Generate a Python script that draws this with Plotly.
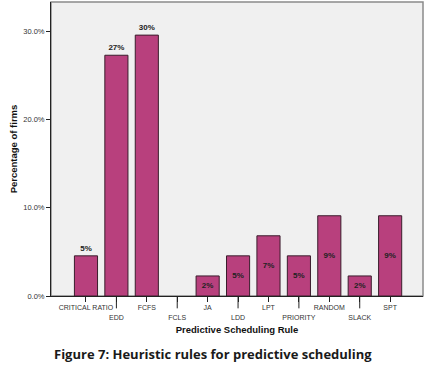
import plotly.graph_objects as go

categories = ["CRITICAL RATIO", "EDD", "FCFS", "FCLS", "JA", "LDD", "LPT",
              "PRIORITY", "RANDOM", "SLACK", "SPT"]
percent = [4.55, 27.27, 29.55, 0.0, 2.27, 4.55, 6.82, 4.55, 9.09, 2.27, 9.09]
bar_labels = ["5%", "27%", "30%", "", "2%", "5%", "7%", "5%", "9%", "2%", "9%"]
label_pos = ["outside", "outside", "outside", "inside", "inside", "inside",
             "inside", "inside", "inside", "inside", "inside"]
y_ticks = [0, 10, 20, 30]
y_ticktext = ["0.0%", "10.0%", "20.0%", "30.0%"]

# staggered tick labels: every second one on a lower row
x_ticktext = [c if i % 2 == 0 else "<br>" + c for i, c in enumerate(categories)]
outline_w = [0 if v == 0 else 1 for v in percent]

fig = go.Figure()
fig.add_trace(go.Bar(
    x=categories, y=percent, text=bar_labels, textposition=label_pos,
    insidetextanchor="middle", cliponaxis=False,
    textfont=dict(family="Liberation Sans", size=8, color="#222222"),
    texttemplate="<b>%{text}</b>",
    marker=dict(color="#b8407d", line=dict(color="#3a1d2c", width=outline_w)),
    width=0.76,
))

shapes = [dict(type="rect", xref="paper", yref="paper", x0=0, x1=1, y0=0, y1=1,
               line=dict(color="#8a8a8a", width=1.5), layer="below")]
for i, c in enumerate(categories):
    if i % 2 == 1:
        shapes.append(dict(type="line", xref="x", yref="paper", x0=c, x1=c,
                           y0=0, y1=-0.042, line=dict(color="#222222", width=1)))

fig.update_layout(
    width=433, height=373,
    margin=dict(l=51, r=10, t=2, b=77),
    paper_bgcolor="white", plot_bgcolor="#f0f0f0",
    showlegend=False, shapes=shapes,
    font=dict(family="Liberation Sans", color="#333333"),
    xaxis=dict(
        tickmode="array", tickvals=categories, ticktext=x_ticktext,
        tickangle=0, automargin=False,
        range=[-1.15, 11.08], showgrid=False, zeroline=False,
        showline=True, linecolor="#222222", linewidth=1,
        ticks="outside", ticklen=5, tickcolor="#222222",
        tickfont=dict(family="Liberation Sans", size=7, color="#333333"),
        title=dict(text="<b>Predictive Scheduling Rule</b>", standoff=6,
                   font=dict(family="Liberation Sans", size=9.5, color="#111111")),
    ),
    yaxis=dict(
        tickmode="array", tickvals=y_ticks, ticktext=y_ticktext,
        automargin=False,
        range=[0, 33.3], showgrid=False, zeroline=False,
        showline=True, linecolor="#222222", linewidth=1,
        ticks="outside", ticklen=4, tickcolor="#222222",
        tickfont=dict(family="Liberation Sans", size=7.5, color="#333333"),
        title=dict(text="<b>Percentage of firms</b>", standoff=3,
                   font=dict(family="Liberation Sans", size=9.5, color="#111111")),
    ),
    annotations=[dict(
        text="<b>Figure 7: Heuristic rules for predictive scheduling</b>",
        xref="paper", yref="paper", x=0.435, y=-0.198, xanchor="center", yanchor="middle",
        showarrow=False, font=dict(family="Open Sans", size=13, color="#1a1a1a"),
    )],
)

fig.write_html("out.html", config={"displayModeBar": False},
               post_script="document.body.style.margin='0';")
